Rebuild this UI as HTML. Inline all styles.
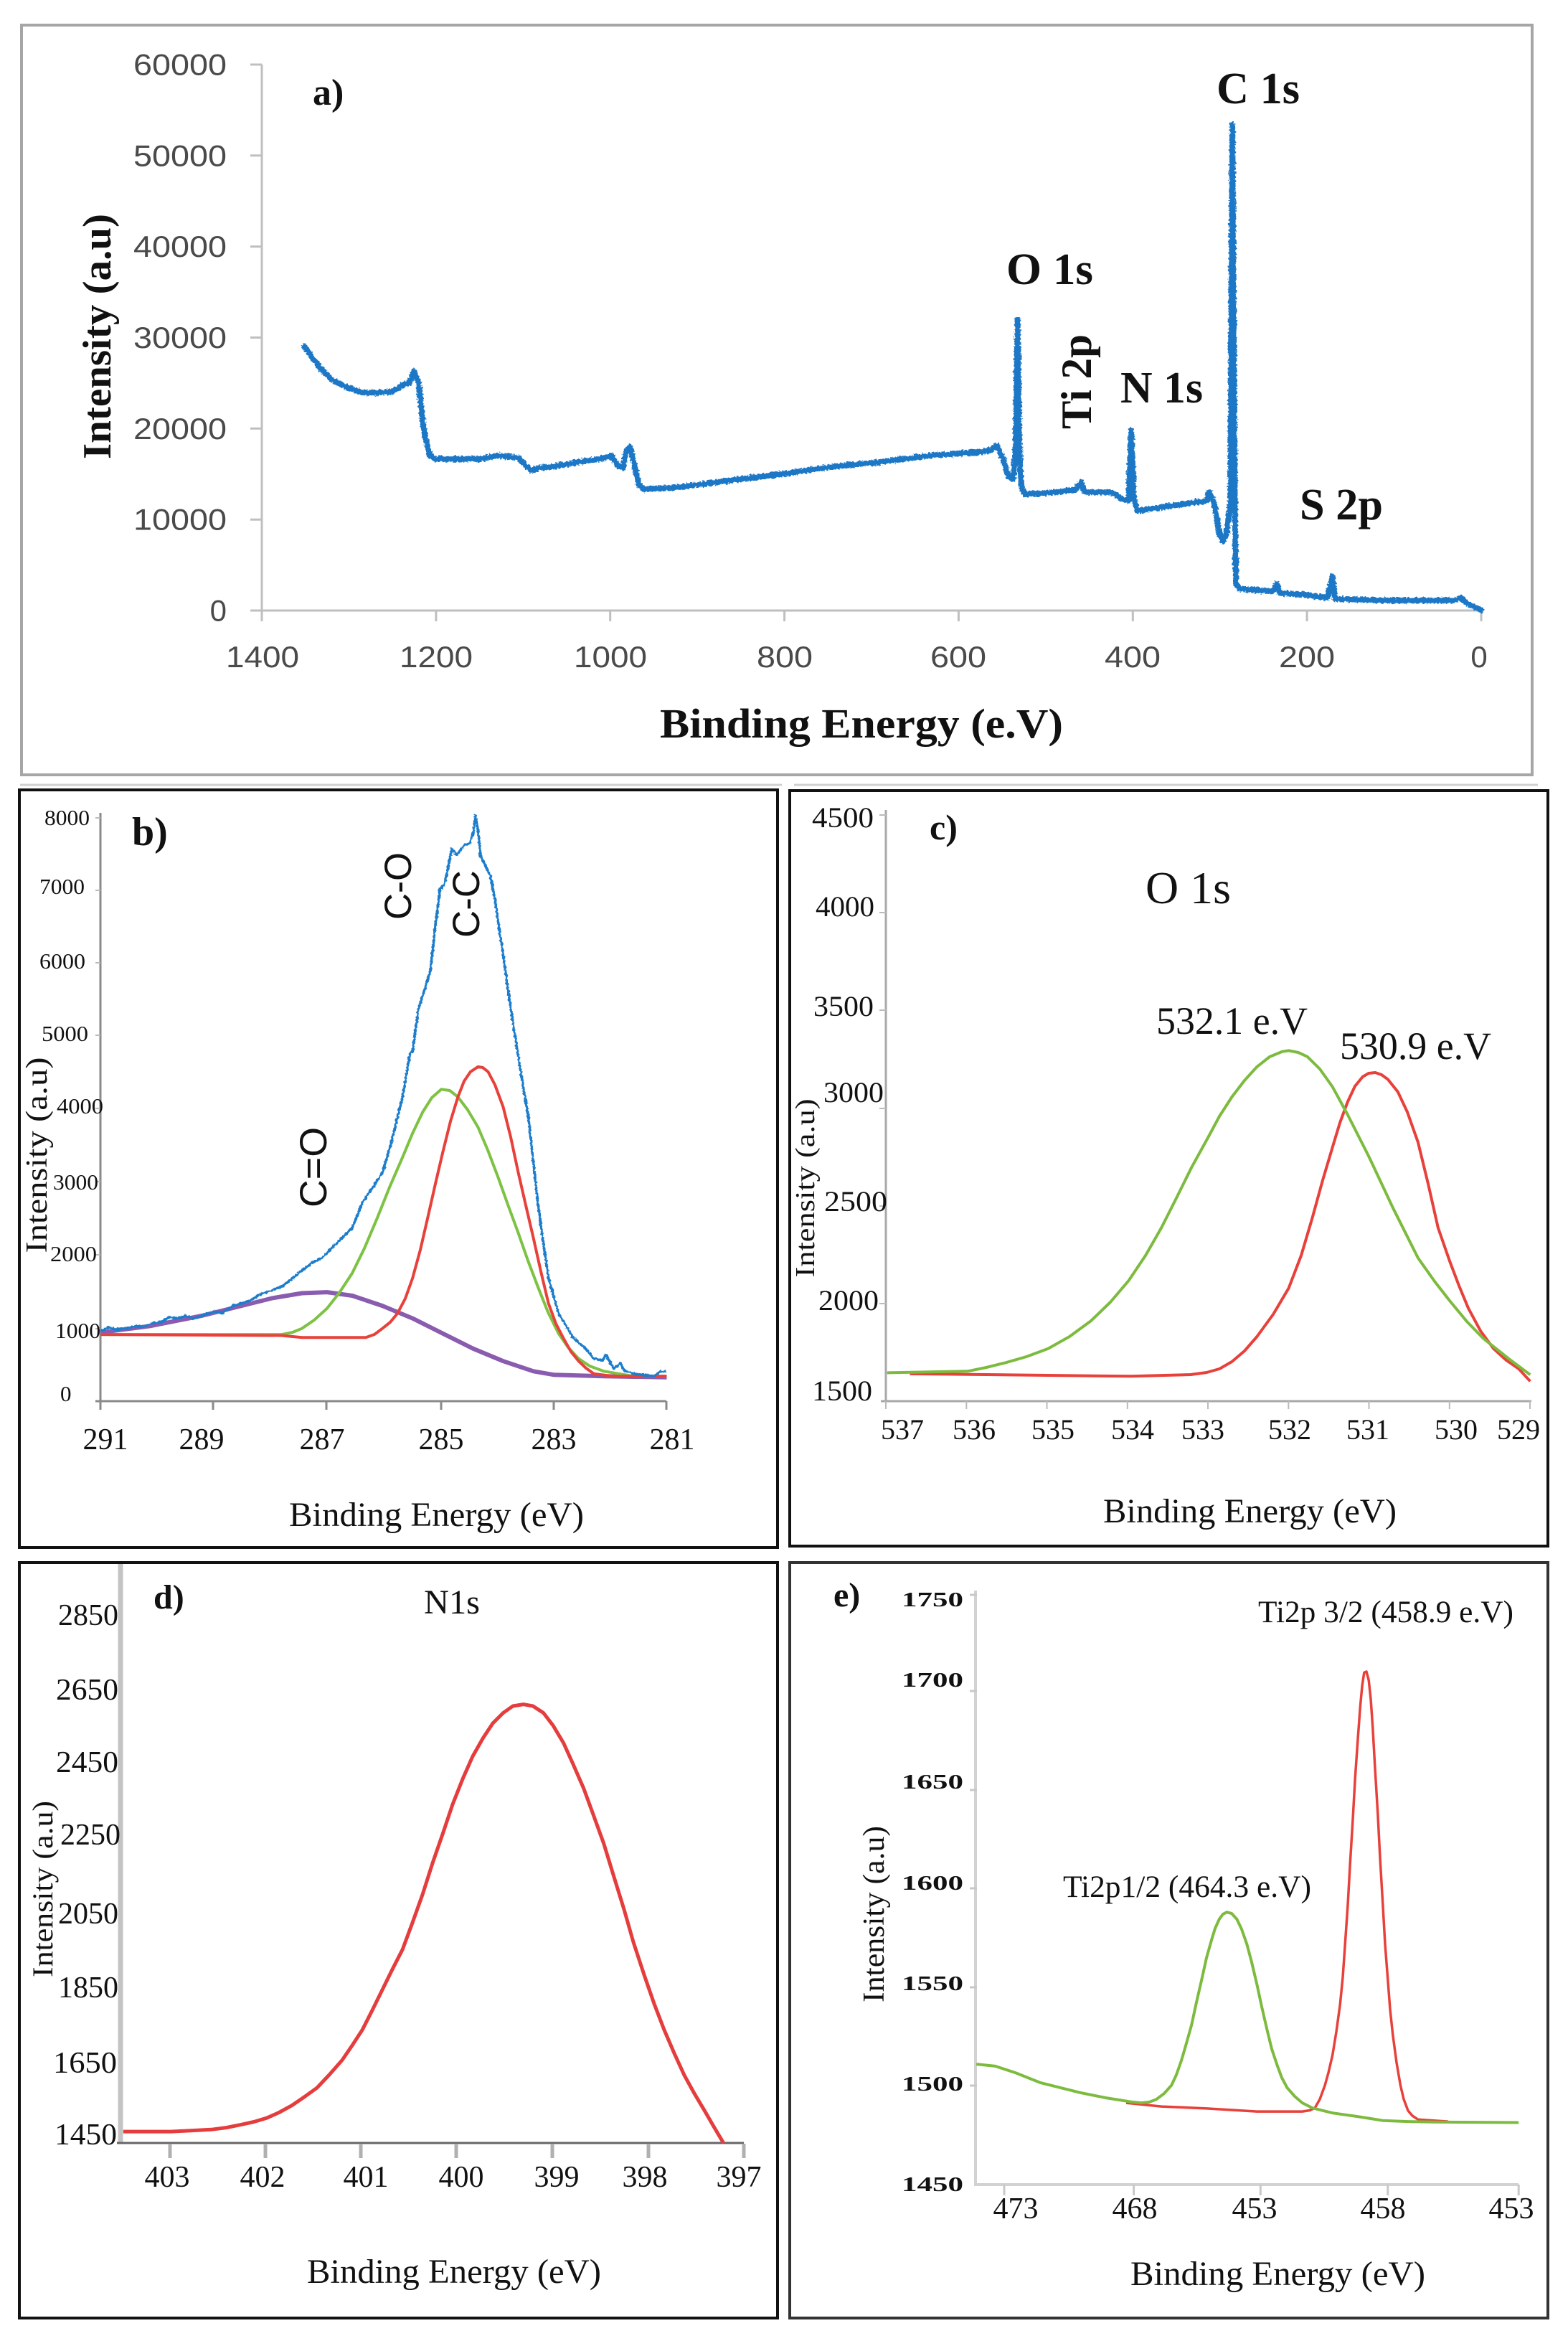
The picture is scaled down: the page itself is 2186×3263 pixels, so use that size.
<!DOCTYPE html>
<html>
<head>
<meta charset="utf-8">
<style>
html,body{margin:0;padding:0;background:#fff;}
svg{display:block;}
.serif{font-family:"Liberation Serif",serif;}
.sans{font-family:"Liberation Sans",sans-serif;}
</style>
</head>
<body>
<svg width="2186" height="3263" viewBox="0 0 2186 3263" xmlns="http://www.w3.org/2000/svg">
<defs>
  <filter id="noiseA" filterUnits="userSpaceOnUse" x="0" y="0" width="2186" height="1100">
    <feTurbulence type="fractalNoise" baseFrequency="0.35" numOctaves="2" seed="3" result="t"/>
    <feDisplacementMap in="SourceGraphic" in2="t" scale="6" xChannelSelector="R" yChannelSelector="G"/>
  </filter>
  <filter id="noiseB" filterUnits="userSpaceOnUse" x="0" y="1100" width="1100" height="1000">
    <feTurbulence type="fractalNoise" baseFrequency="0.3" numOctaves="2" seed="7" result="t"/>
    <feDisplacementMap in="SourceGraphic" in2="t" scale="4" xChannelSelector="R" yChannelSelector="G"/>
  </filter>
</defs>
<rect x="0" y="0" width="2186" height="3263" fill="#fff"/>

<!-- ================= Panel a ================= -->
<rect x="30" y="35" width="2106" height="1045" fill="none" stroke="#a6a6a6" stroke-width="4"/>
<line x1="28" y1="1094" x2="1090" y2="1094" stroke="#d0d0d0" stroke-width="3"/>
<line x1="1107" y1="1094" x2="2144" y2="1094" stroke="#d0d0d0" stroke-width="3"/>
<g stroke="#bfbfbf" stroke-width="3">
  <line x1="365" y1="90" x2="365" y2="851"/>
  <line x1="349" y1="851" x2="2065" y2="851"/>
  <line x1="349" y1="90" x2="365" y2="90"/>
  <line x1="349" y1="216.8" x2="365" y2="216.8"/>
  <line x1="349" y1="343.7" x2="365" y2="343.7"/>
  <line x1="349" y1="470.5" x2="365" y2="470.5"/>
  <line x1="349" y1="597.3" x2="365" y2="597.3"/>
  <line x1="349" y1="724.2" x2="365" y2="724.2"/>
  <line x1="365" y1="851" x2="365" y2="866"/>
  <line x1="607.9" y1="851" x2="607.9" y2="866"/>
  <line x1="850.7" y1="851" x2="850.7" y2="866"/>
  <line x1="1093.6" y1="851" x2="1093.6" y2="866"/>
  <line x1="1336.4" y1="851" x2="1336.4" y2="866"/>
  <line x1="1579.3" y1="851" x2="1579.3" y2="866"/>
  <line x1="1822.1" y1="851" x2="1822.1" y2="866"/>
  <line x1="2065" y1="851" x2="2065" y2="866"/>
</g>
<g class="sans" font-size="42" fill="#4a4a4a" text-anchor="end">
  <text x="316" y="104.5" textLength="130" lengthAdjust="spacingAndGlyphs">60000</text>
  <text x="316" y="231.3" textLength="130" lengthAdjust="spacingAndGlyphs">50000</text>
  <text x="316" y="358.2" textLength="130" lengthAdjust="spacingAndGlyphs">40000</text>
  <text x="316" y="485" textLength="130" lengthAdjust="spacingAndGlyphs">30000</text>
  <text x="316" y="611.8" textLength="130" lengthAdjust="spacingAndGlyphs">20000</text>
  <text x="316" y="738.7" textLength="130" lengthAdjust="spacingAndGlyphs">10000</text>
  <text x="316" y="865.5">0</text>
</g>
<g class="sans" font-size="42" fill="#4a4a4a" text-anchor="middle">
  <text x="366" y="930" textLength="102" lengthAdjust="spacingAndGlyphs">1400</text>
  <text x="608" y="930" textLength="102" lengthAdjust="spacingAndGlyphs">1200</text>
  <text x="851" y="930" textLength="102" lengthAdjust="spacingAndGlyphs">1000</text>
  <text x="1094" y="930" textLength="78" lengthAdjust="spacingAndGlyphs">800</text>
  <text x="1336" y="930" textLength="78" lengthAdjust="spacingAndGlyphs">600</text>
  <text x="1579" y="930" textLength="78" lengthAdjust="spacingAndGlyphs">400</text>
  <text x="1822" y="930" textLength="78" lengthAdjust="spacingAndGlyphs">200</text>
  <text x="2062" y="930">0</text>
</g>
<polyline filter="url(#noiseA)" fill="none" stroke="#1d78c6" stroke-width="8" stroke-linejoin="round" stroke-linecap="round" points="
424.4,482.6 434.9,498.1 449,515.6 463,529.6 484,540.2 505.1,547.2 526.1,547.2 547.2,545.8 561.2,536.6 571.7,533.1 576.6,517.7 583.7,533.1 587.9,575.2 592.8,610.3 599.8,634.9 606.8,639.8 631.4,639.8 666.4,639.8 694.5,634.9 722.5,638.4 733.1,648.9 740.1,655.9 750.6,652.4 771.7,650.3 806.7,644 841.8,638.4 852.3,634.9 861.4,648.9 868.5,652.4 873.4,627.8 878.3,622.9 883.9,645.4 890.9,677 897.9,681.9 947,679.1 1017.2,669.9 1100,659.4 1156.2,651 1226.3,644 1296.5,634.9 1366.6,630 1380.6,627.8 1389,620.8 1398.2,638.4 1405.2,662.9 1412.2,667.8 1415.7,631.4 1418.5,445.5 1421.3,631.4 1424.1,680.5 1429.7,688.9 1471.8,686.1 1499.9,681.9 1506.9,672 1512.5,686.1 1549,686.1 1563,694.5 1573.5,698 1577.1,599.8 1580.6,694.5 1585.5,712 1619.1,707.1 1682.3,698 1685.8,686.1 1692.8,701.5 1699.8,743.6 1704.7,754.1 1710.3,743.6 1715.2,701.5 1718.1,174 1721.6,701.5 1723,813.7 1727.9,820.8 1773.5,824.3 1780.5,813.7 1784,826.4 1822.6,829.2 1850.6,833.4 1857.7,803.2 1861.2,834.8 1927.8,836.9 2026,836.9 2036.5,833.4 2047.1,841.8 2064.6,850.2"/>
<g class="serif" font-weight="bold" fill="#111">
  <text x="436" y="146" font-size="52">a)</text>
  <text x="1696" y="144" font-size="62" textLength="116" lengthAdjust="spacingAndGlyphs">C 1s</text>
  <text x="1403" y="396" font-size="62" textLength="121" lengthAdjust="spacingAndGlyphs">O 1s</text>
  <text x="1562" y="561" font-size="62" textLength="115" lengthAdjust="spacingAndGlyphs">N 1s</text>
  <text x="1812" y="724" font-size="62" textLength="116" lengthAdjust="spacingAndGlyphs">S 2p</text>
  <text transform="translate(1521,532) rotate(-90)" text-anchor="middle" font-size="60" textLength="132" lengthAdjust="spacingAndGlyphs">Ti 2p</text>
  <text transform="translate(154,469) rotate(-90)" text-anchor="middle" font-size="56" textLength="342" lengthAdjust="spacingAndGlyphs">Intensity (a.u)</text>
  <text x="920" y="1028" font-size="58" textLength="562" lengthAdjust="spacingAndGlyphs">Binding Energy (e.V)</text>
</g>

<!-- ================= Panel b ================= -->
<rect x="27" y="1101" width="1057" height="1056" fill="none" stroke="#111" stroke-width="4"/>
<g stroke="#8a8a8a" stroke-width="3">
  <line x1="140" y1="1133" x2="140" y2="1953"/>
  <line x1="133" y1="1953" x2="929" y2="1953"/>
  <line x1="140" y1="1953" x2="140" y2="1965"/>
  <line x1="297" y1="1953" x2="297" y2="1965"/>
  <line x1="455" y1="1953" x2="455" y2="1965"/>
  <line x1="615" y1="1953" x2="615" y2="1965"/>
  <line x1="772" y1="1953" x2="772" y2="1965"/>
  <line x1="929" y1="1953" x2="929" y2="1965"/>
</g>
<g stroke="#bbb" stroke-width="2">
  <line x1="133" y1="1140" x2="140" y2="1140"/>
  <line x1="133" y1="1241" x2="140" y2="1241"/>
  <line x1="133" y1="1342" x2="140" y2="1342"/>
  <line x1="133" y1="1443" x2="140" y2="1443"/>
  <line x1="133" y1="1545" x2="140" y2="1545"/>
  <line x1="133" y1="1647" x2="140" y2="1647"/>
  <line x1="133" y1="1749" x2="140" y2="1749"/>
  <line x1="133" y1="1852" x2="140" y2="1852"/>
</g>
<g class="serif" font-size="31" fill="#111">
  <text x="62" y="1150" textLength="63" lengthAdjust="spacingAndGlyphs">8000</text>
  <text x="55" y="1246" textLength="63" lengthAdjust="spacingAndGlyphs">7000</text>
  <text x="55" y="1350" textLength="64" lengthAdjust="spacingAndGlyphs">6000</text>
  <text x="58" y="1451" textLength="65" lengthAdjust="spacingAndGlyphs">5000</text>
  <text x="79" y="1552" textLength="65" lengthAdjust="spacingAndGlyphs">4000</text>
  <text x="74" y="1658" textLength="63" lengthAdjust="spacingAndGlyphs">3000</text>
  <text x="70" y="1758" textLength="65" lengthAdjust="spacingAndGlyphs">2000</text>
  <text x="77" y="1865" textLength="63" lengthAdjust="spacingAndGlyphs">1000</text>
  <text x="84" y="1953">0</text>
</g>
<g class="serif" font-size="42" fill="#111" text-anchor="middle">
  <text x="147" y="2020">291</text>
  <text x="281" y="2020">289</text>
  <text x="449" y="2020">287</text>
  <text x="615" y="2020">285</text>
  <text x="772" y="2020">283</text>
  <text x="937" y="2020">281</text>
</g>
<polyline fill="none" stroke="#8a5cb0" stroke-width="6" stroke-linejoin="round" points="
140.3,1857.3 210.5,1848.1 280.6,1834.1 336.7,1820.1 378.8,1809.6 420.9,1802.5 456,1801.1 491.1,1806 533.1,1820.1 575.2,1837.6 617.3,1858.7 659.4,1879.7 701.5,1897.2 743.6,1911.3 771.7,1916.2 841.8,1918.3 929.5,1919.7"/>
<polyline fill="none" stroke="#7dc243" stroke-width="4" stroke-linejoin="round" points="
140.3,1860.1 392.8,1860.1 408,1857 420.9,1851.7 438,1840 456,1823.6 473,1802 491.1,1774.5 508,1740 526.1,1697.3 543,1655 561.2,1613.1 575,1580 589.3,1550 602,1530 615.2,1518.4 627,1520 638.4,1529 652,1547 666.4,1571.1 680,1603 694.5,1641.2 708,1679 722.5,1718.4 736,1757 750.6,1795.5 764,1829 778.7,1858.7 792,1878 806.7,1893.7 822,1904 841.8,1911.3 883.9,1918.3 929.5,1918.3"/>
<polyline fill="none" stroke="#e8403a" stroke-width="4" stroke-linejoin="round" points="
140.3,1860.1 392.8,1861.5 420.9,1864.3 510,1864.3 522,1860 533.1,1851.7 544,1843 554.2,1830.6 565,1810 575.2,1781.5 586,1742 596.3,1697.3 607,1650 617.3,1606.1 628,1563 638.4,1529 647,1507 655.9,1493.9 666.4,1486.9 673,1488 680.5,1493.9 690,1512 701.5,1543 712,1585 722.5,1634.2 733,1680 743.6,1725.4 754,1772 764.6,1816.6 775,1845 785.7,1865.7 796,1884 806.7,1897.2 817,1907 827.8,1914.8 855.8,1918.3 929.5,1918.3"/>
<polyline filter="url(#noiseB)" fill="none" stroke="#1f7dcc" stroke-width="3.5" stroke-linejoin="round" points="
140.3,1855.2 152,1850 160,1853 175.4,1851.7 190,1848 200,1850 210.5,1844.6 225,1843 235,1836 245.5,1837.6 260,1834 270,1838 280.6,1834.1 300,1828 310,1830 325,1820 336.7,1816.6 350,1812 365,1803 378.8,1799 395,1792 410,1780 420.9,1771 435,1760 449,1753.4 462,1740 477,1725.4 491.1,1711.4 505.1,1676.3 520,1655 533.1,1634.2 543.7,1599.1 561.2,1529 571.7,1468 575.2,1465.8 583.3,1406.7 600,1353 606.7,1293 613.3,1240 620,1231.7 630,1183 636.7,1191.7 646.7,1178.3 655,1175 660,1160 662.9,1136.1 666.7,1160 669.9,1192.2 673.3,1200 683.3,1220 690,1253 696.7,1300 700,1320 708.5,1381.6 722.5,1472.8 736.6,1557 750.6,1683.3 764.6,1781.5 778.7,1830.6 799.7,1865.7 815,1878 827.8,1893.7 840,1896 845,1888 850,1898 855.8,1907.8 865,1900 870,1910 883.9,1914.8 912,1918.3 920,1912 929.5,1911.3"/>
<g class="serif" font-weight="bold" fill="#111">
  <text x="184" y="1178" font-size="56">b)</text>
</g>
<g class="sans" fill="#111" font-size="53">
  <text transform="translate(573,1235) rotate(-90)" text-anchor="middle" textLength="94" lengthAdjust="spacingAndGlyphs">C-O</text>
  <text transform="translate(668,1260) rotate(-90)" text-anchor="middle" textLength="94" lengthAdjust="spacingAndGlyphs">C-C</text>
  <text transform="translate(455,1627) rotate(-90)" text-anchor="middle" textLength="112" lengthAdjust="spacingAndGlyphs">C=O</text>
</g>
<g class="serif" fill="#111">
  <text transform="translate(65,1610) rotate(-90)" text-anchor="middle" font-size="42" textLength="273" lengthAdjust="spacingAndGlyphs">Intensity (a.u)</text>
  <text x="403" y="2127" font-size="48" textLength="411" lengthAdjust="spacingAndGlyphs">Binding Energy (eV)</text>
</g>

<!-- ================= Panel c ================= -->
<rect x="1101" y="1102" width="1057" height="1053" fill="none" stroke="#111" stroke-width="4"/>
<g stroke="#a8a8a8" stroke-width="3">
  <line x1="1235" y1="1129" x2="1235" y2="1953"/>
  <line x1="1228" y1="1953" x2="2135" y2="1953"/>
</g>
<g stroke="#bbb" stroke-width="2">
  <line x1="1226" y1="1136" x2="1235" y2="1136"/>
  <line x1="1226" y1="1272" x2="1235" y2="1272"/>
  <line x1="1226" y1="1408" x2="1235" y2="1408"/>
  <line x1="1226" y1="1545" x2="1235" y2="1545"/>
  <line x1="1226" y1="1681" x2="1235" y2="1681"/>
  <line x1="1226" y1="1817" x2="1235" y2="1817"/>
  <line x1="1235" y1="1953" x2="1235" y2="1964"/>
  <line x1="1347.3" y1="1953" x2="1347.3" y2="1964"/>
  <line x1="1459.5" y1="1953" x2="1459.5" y2="1964"/>
  <line x1="1571.8" y1="1953" x2="1571.8" y2="1964"/>
  <line x1="1684" y1="1953" x2="1684" y2="1964"/>
  <line x1="1796.3" y1="1953" x2="1796.3" y2="1964"/>
  <line x1="1908.5" y1="1953" x2="1908.5" y2="1964"/>
  <line x1="2020.8" y1="1953" x2="2020.8" y2="1964"/>
  <line x1="2133" y1="1953" x2="2133" y2="1964"/>
</g>
<g class="serif" font-size="40" fill="#111">
  <text x="1132" y="1153" textLength="86" lengthAdjust="spacingAndGlyphs">4500</text>
  <text x="1137" y="1277" textLength="82" lengthAdjust="spacingAndGlyphs">4000</text>
  <text x="1134" y="1416" textLength="84" lengthAdjust="spacingAndGlyphs">3500</text>
  <text x="1148" y="1536" textLength="84" lengthAdjust="spacingAndGlyphs">3000</text>
  <text x="1149" y="1688" textLength="88" lengthAdjust="spacingAndGlyphs">2500</text>
  <text x="1141" y="1826" textLength="84" lengthAdjust="spacingAndGlyphs">2000</text>
  <text x="1132" y="1952" textLength="84" lengthAdjust="spacingAndGlyphs">1500</text>
</g>
<g class="serif" font-size="40" fill="#111" text-anchor="middle">
  <text x="1258" y="2006">537</text>
  <text x="1358" y="2006">536</text>
  <text x="1468" y="2006">535</text>
  <text x="1579" y="2006">534</text>
  <text x="1677" y="2006">533</text>
  <text x="1798" y="2006">532</text>
  <text x="1907" y="2006">531</text>
  <text x="2030" y="2006">530</text>
  <text x="2117" y="2006">529</text>
</g>
<polyline fill="none" stroke="#e8403a" stroke-width="4" stroke-linejoin="round" points="
1268.4,1914.8 1577.1,1918.3 1660,1916 1682.3,1913 1700,1908 1717.4,1898 1735,1883 1752.4,1863 1775,1832 1796.6,1795.5 1814,1750 1829.6,1697.3 1844,1645 1857.7,1599.1 1868,1565 1878.7,1536 1889,1514 1899.7,1500.9 1908,1496 1917.3,1495 1926,1498 1934.8,1504.4 1948.8,1521.9 1962,1550 1976.9,1592.1 1991,1650 2004.9,1711.4 2021.1,1758 2034,1792 2047.1,1823.6 2064,1855 2082.1,1879.7 2100,1896 2117.2,1907.8 2133.3,1925.3"/>
<polyline fill="none" stroke="#7dbb3f" stroke-width="4" stroke-linejoin="round" points="
1236.8,1913.4 1349.1,1911.3 1375,1906 1401.7,1899.4 1431,1891 1461.3,1879.7 1491,1863 1520.9,1841.1 1548,1815 1573.5,1785 1597,1750 1619.1,1711.4 1640,1670 1661.2,1627.2 1684.4,1585.1 1700,1556 1717.4,1529 1735,1506 1752.4,1486.9 1770,1473 1787.5,1465.8 1796.6,1464.4 1810,1467 1822.6,1472.8 1840,1490 1857.7,1514.9 1878.7,1553.5 1908.9,1613.1 1941.8,1683.3 1976.9,1753.4 2000,1786 2021.1,1813.1 2045,1842 2068.1,1865.7 2103.2,1893.7 2133.3,1916.2"/>
<g class="serif" fill="#111">
  <text x="1296" y="1170" font-size="50" font-weight="bold">c)</text>
  <text x="1597" y="1259" font-size="64" textLength="119" lengthAdjust="spacingAndGlyphs">O 1s</text>
  <text x="1612" y="1441" font-size="54" textLength="211" lengthAdjust="spacingAndGlyphs">532.1 e.V</text>
  <text x="1868" y="1476" font-size="54" textLength="211" lengthAdjust="spacingAndGlyphs">530.9 e.V</text>
  <text transform="translate(1135,1656) rotate(-90)" text-anchor="middle" font-size="38" textLength="249" lengthAdjust="spacingAndGlyphs">Intensity (a.u)</text>
  <text x="1538" y="2122" font-size="48" textLength="409" lengthAdjust="spacingAndGlyphs">Binding Energy (eV)</text>
</g>

<!-- ================= Panel d ================= -->
<rect x="27" y="2178" width="1057" height="1053" fill="none" stroke="#111" stroke-width="4"/>
<line x1="168" y1="2180" x2="168" y2="2987" stroke="#c4c4c4" stroke-width="7"/>
<line x1="163" y1="2987" x2="1037" y2="2987" stroke="#666" stroke-width="3"/>
<g stroke="#b0b0b0" stroke-width="5">
  <line x1="237" y1="2988" x2="237" y2="3008"/>
  <line x1="370" y1="2988" x2="370" y2="3008"/>
  <line x1="503" y1="2988" x2="503" y2="3008"/>
  <line x1="636" y1="2988" x2="636" y2="3008"/>
  <line x1="770" y1="2988" x2="770" y2="3008"/>
  <line x1="904" y1="2988" x2="904" y2="3008"/>
  <line x1="1037" y1="2988" x2="1037" y2="3008"/>
</g>
<g class="serif" font-size="42" fill="#111" text-anchor="end">
  <text x="165" y="2265" textLength="84" lengthAdjust="spacingAndGlyphs">2850</text>
  <text x="165" y="2369" textLength="87" lengthAdjust="spacingAndGlyphs">2650</text>
  <text x="165" y="2470" textLength="87" lengthAdjust="spacingAndGlyphs">2450</text>
  <text x="168" y="2571" textLength="84" lengthAdjust="spacingAndGlyphs">2250</text>
  <text x="165" y="2681" textLength="84" lengthAdjust="spacingAndGlyphs">2050</text>
  <text x="165" y="2784" textLength="84" lengthAdjust="spacingAndGlyphs">1850</text>
  <text x="163" y="2889" textLength="89" lengthAdjust="spacingAndGlyphs">1650</text>
  <text x="163" y="2989" textLength="87" lengthAdjust="spacingAndGlyphs">1450</text>
</g>
<g class="serif" font-size="42" fill="#111" text-anchor="middle">
  <text x="233" y="3048">403</text>
  <text x="366" y="3048">402</text>
  <text x="510" y="3048">401</text>
  <text x="643" y="3048">400</text>
  <text x="776" y="3048">399</text>
  <text x="899" y="3048">398</text>
  <text x="1030" y="3048">397</text>
</g>
<polyline fill="none" stroke="#e53d3d" stroke-width="5" stroke-linejoin="round" points="
171.9,2971.1 238.5,2971.1 294.6,2968.3 316,2965.5 336.7,2961.3 354,2957.5 371.8,2952.2 389,2944.5 406.9,2934.7 424,2923 441.9,2910.1 459,2892 477,2871.5 491,2851 505.1,2829.4 519,2802 533.1,2773.3 547,2745 561.2,2717.2 575,2680 589.3,2640 603,2597 617.3,2555.8 631,2515 645.4,2478.7 659,2448 673.4,2422.6 687,2402 701.5,2387.5 715,2378 729.6,2375.6 743,2378 757.6,2387.5 771,2405 785.7,2429.6 799,2459 813.7,2492.7 827,2529 841.8,2569.9 855,2613 869.9,2661.1 883,2707 897.9,2752.3 912,2793 926,2829.4 940,2862 954,2892.6 968,2918 982.1,2941.7 995,2964 1008.8,2987.3"/>
<g class="serif" fill="#111">
  <text x="214" y="2242" font-size="48" font-weight="bold">d)</text>
  <text x="591" y="2249" font-size="48" textLength="78" lengthAdjust="spacingAndGlyphs">N1s</text>
  <text transform="translate(73,2633) rotate(-90)" text-anchor="middle" font-size="40" textLength="246" lengthAdjust="spacingAndGlyphs">Intensity (a.u)</text>
  <text x="428" y="3182" font-size="48" textLength="410" lengthAdjust="spacingAndGlyphs">Binding Energy (eV)</text>
</g>

<!-- ================= Panel e ================= -->
<rect x="1101" y="2178" width="1057" height="1053" fill="none" stroke="#333" stroke-width="4"/>
<g stroke="#d2d2d2" stroke-width="4">
  <line x1="1360" y1="2217" x2="1360" y2="3045"/>
  <line x1="1358" y1="3045" x2="2117" y2="3045"/>
</g>
<g stroke="#c8c8c8" stroke-width="3">
  <line x1="1352" y1="2223" x2="1362" y2="2223"/>
  <line x1="1352" y1="2357" x2="1362" y2="2357"/>
  <line x1="1352" y1="2495" x2="1362" y2="2495"/>
  <line x1="1352" y1="2632" x2="1362" y2="2632"/>
  <line x1="1352" y1="2770" x2="1362" y2="2770"/>
  <line x1="1352" y1="2907" x2="1362" y2="2907"/>
  <line x1="1400" y1="3045" x2="1400" y2="3060"/>
  <line x1="1580.6" y1="3045" x2="1580.6" y2="3060"/>
  <line x1="1757.3" y1="3045" x2="1757.3" y2="3060"/>
  <line x1="1934.8" y1="3045" x2="1934.8" y2="3060"/>
  <line x1="2117.2" y1="3045" x2="2117.2" y2="3060"/>
</g>
<g class="serif" font-size="28" font-weight="bold" fill="#111">
  <text x="1257" y="2239" textLength="86" lengthAdjust="spacingAndGlyphs">1750</text>
  <text x="1257" y="2351" textLength="86" lengthAdjust="spacingAndGlyphs">1700</text>
  <text x="1257" y="2493" textLength="86" lengthAdjust="spacingAndGlyphs">1650</text>
  <text x="1257" y="2634" textLength="86" lengthAdjust="spacingAndGlyphs">1600</text>
  <text x="1257" y="2774" textLength="86" lengthAdjust="spacingAndGlyphs">1550</text>
  <text x="1257" y="2914" textLength="86" lengthAdjust="spacingAndGlyphs">1500</text>
  <text x="1257" y="3054" textLength="86" lengthAdjust="spacingAndGlyphs">1450</text>
</g>
<g class="serif" font-size="42" fill="#111" text-anchor="middle">
  <text x="1416" y="3092">473</text>
  <text x="1582" y="3092">468</text>
  <text x="1749" y="3092">453</text>
  <text x="1928" y="3092">458</text>
  <text x="2107" y="3092">453</text>
</g>
<polyline fill="none" stroke="#e8403a" stroke-width="3.5" stroke-linejoin="round" points="
1570,2931.1 1619.1,2936.1 1682.3,2938.9 1752.4,2943.1 1815.6,2943.1 1826,2941.5 1833.1,2938.2 1840,2926 1847.1,2906.6 1852,2889 1857.7,2864.5 1863,2832 1868.2,2794.4 1872,2756 1875.2,2710.2 1879,2655 1882.2,2597.9 1886,2536 1889.2,2478.7 1893,2424 1896.2,2380.5 1899,2350 1901.8,2331.4 1905,2330 1908.2,2341.9 1911,2368 1913.8,2408.5 1917,2465 1920.8,2527.8 1924,2590 1927.8,2654.1 1931,2710 1934.8,2759.3 1938,2801 1941.8,2836.4 1947,2875 1952.4,2906.6 1957,2926 1962.9,2941.7 1969,2949 1977,2954.3 2019,2957.1"/>
<polyline fill="none" stroke="#7dbb3f" stroke-width="4" stroke-linejoin="round" points="
1361,2877.1 1387.6,2879.9 1415.7,2889.1 1450.8,2903.1 1478.8,2910.1 1506.9,2917.1 1542,2924.1 1577.1,2929.7 1591.1,2931.1 1602,2930 1612.1,2926.2 1623,2918 1633.2,2906.6 1640,2892 1647.2,2871.5 1654,2848 1661.2,2822.4 1668,2791 1675.3,2759.3 1682,2729 1689.3,2703.2 1694,2688 1699.8,2675.1 1705,2668 1710.3,2665.3 1717,2667 1724.4,2675.1 1731,2689 1738.4,2710.2 1745,2735 1752.4,2766.3 1759,2797 1766.5,2829.4 1773,2856 1780.5,2878.5 1787,2896 1794.5,2910.1 1805,2922 1815.6,2931.1 1829.6,2938.2 1857.7,2945.2 1892.7,2950.1 1927.8,2955.7 1962.9,2957.1 1998,2957.8 2117.2,2958.5"/>
<g class="serif" fill="#111">
  <text x="1162" y="2239" font-size="48" font-weight="bold">e)</text>
  <text x="1754" y="2261" font-size="43" textLength="356" lengthAdjust="spacingAndGlyphs">Ti2p 3/2 (458.9 e.V)</text>
  <text x="1482" y="2644" font-size="43" textLength="346" lengthAdjust="spacingAndGlyphs">Ti2p1/2 (464.3 e.V)</text>
  <text transform="translate(1232,2668) rotate(-90)" text-anchor="middle" font-size="42" textLength="246" lengthAdjust="spacingAndGlyphs">Intensity (a.u)</text>
  <text x="1576" y="3185" font-size="48" textLength="411" lengthAdjust="spacingAndGlyphs">Binding Energy (eV)</text>
</g>
</svg>
</body>
</html>
